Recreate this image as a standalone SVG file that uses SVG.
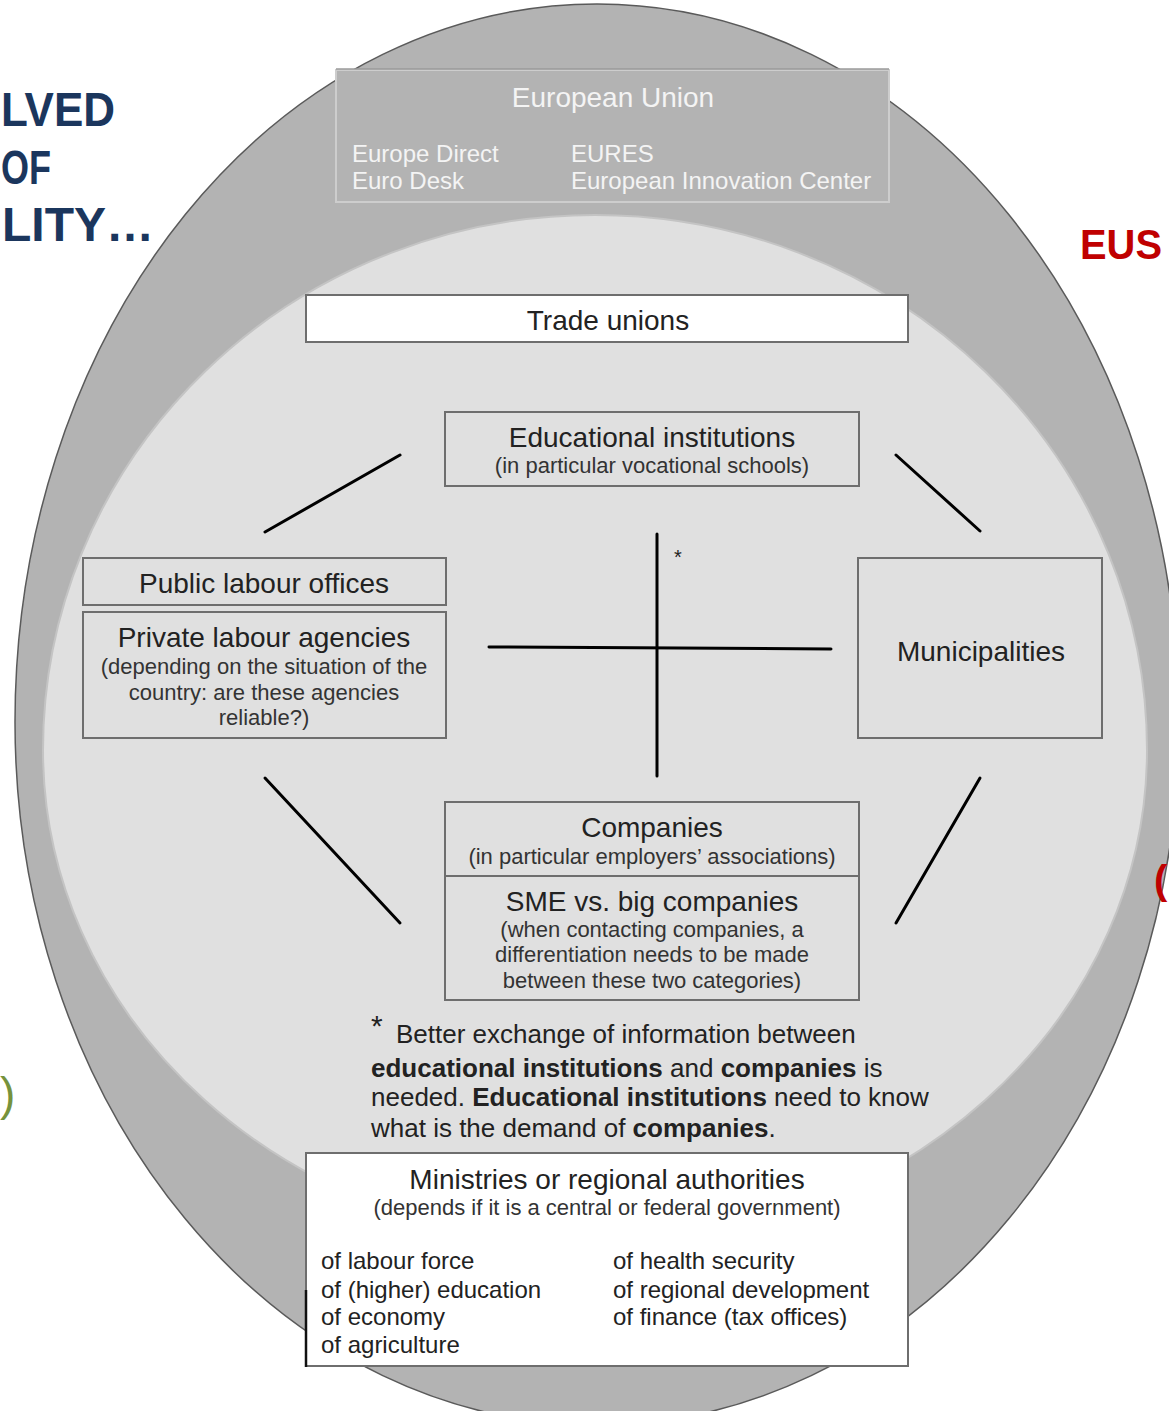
<svg xmlns="http://www.w3.org/2000/svg" width="1169" height="1411" viewBox="0 0 1169 1411">
<style>
  text { font-family: "Liberation Sans", Arial, sans-serif; }
  .box { fill: none; stroke: #6e6e6e; stroke-width: 2; }
  .wbox { fill: #ffffff; stroke: #6e6e6e; stroke-width: 2; }
  .main { font-size: 28px; fill: #222222; text-anchor: middle; }
  .sub { font-size: 22px; fill: #333333; text-anchor: middle; }
  .eu { fill: #f4f4f4; }
  .list { font-size: 24px; fill: #222222; }
  .note { font-size: 26px; fill: #222222; }
  .b { font-weight: bold; }
  .conn { stroke: #000000; stroke-width: 3; stroke-linecap: round; fill: none; }
  .head { font-size: 48px; font-weight: bold; fill: #1b365d; }
</style>
<rect x="0" y="0" width="1169" height="1411" fill="#ffffff"/>

<g id="outer-ring">
  <path d="M 15 722 A 582 718 0 0 1 1179 722 A 582 703 0 0 1 15 722 Z" fill="#b3b3b3" stroke="#5a5a5a" stroke-width="1.5"/>
</g>

<g id="inner-area">
  <path d="M 43 750 A 552 535 0 0 1 1147 750 A 552 495 0 0 1 43 750 Z" fill="#e0e0e0" stroke="#c4c4c4" stroke-width="2"/>
</g>

<g id="side-texts">
  <text class="head" x="1" y="126" textLength="114" lengthAdjust="spacingAndGlyphs">LVED</text>
  <text class="head" x="1" y="184" textLength="50" lengthAdjust="spacingAndGlyphs">OF</text>
  <text class="head" x="2" y="241" textLength="152" lengthAdjust="spacingAndGlyphs">LITY…</text>
  <text x="1080" y="259" font-size="42" font-weight="bold" fill="#c00000" textLength="82" lengthAdjust="spacingAndGlyphs">EUS</text>
  <text x="1154" y="894" font-size="40" font-weight="bold" fill="#c00000">(</text>
  <text x="0" y="1110" font-size="46" fill="#76923c">)</text>
</g>

<g id="european-union">
  <rect x="336" y="70" width="553" height="132" fill="#b3b3b3" stroke="#cdcdcd" stroke-width="2"/>
  <line x1="336" y1="69" x2="889" y2="69" stroke="#9a9a9a" stroke-width="1.5"/>
  <text class="eu" x="613" y="107" font-size="28" text-anchor="middle">European Union</text>
  <text class="eu" x="352" y="162" font-size="24">Europe Direct</text>
  <text class="eu" x="352" y="189" font-size="24">Euro Desk</text>
  <text class="eu" x="571" y="162" font-size="24">EURES</text>
  <text class="eu" x="571" y="189" font-size="24">European Innovation Center</text>
</g>

<g id="trade-unions">
  <rect class="wbox" x="306" y="295" width="602" height="47"/>
  <text class="main" x="608" y="330">Trade unions</text>
</g>

<g id="educational-institutions">
  <rect class="box" x="445" y="412" width="414" height="74"/>
  <text class="main" x="652" y="447">Educational institutions</text>
  <text class="sub" x="652" y="473">(in particular vocational schools)</text>
</g>

<g id="public-labour-offices">
  <rect class="box" x="83" y="558" width="363" height="47"/>
  <text class="main" x="264" y="593">Public labour offices</text>
</g>

<g id="private-labour-agencies">
  <rect class="box" x="83" y="612" width="363" height="126"/>
  <text class="main" x="264" y="647">Private labour agencies</text>
  <text class="sub" x="264" y="674">(depending on the situation of the</text>
  <text class="sub" x="264" y="700">country: are these agencies</text>
  <text class="sub" x="264" y="725">reliable?)</text>
</g>

<g id="municipalities">
  <rect class="box" x="858" y="558" width="244" height="180"/>
  <text class="main" x="981" y="661">Municipalities</text>
</g>

<g id="companies">
  <rect class="box" x="445" y="802" width="414" height="198"/>
  <line x1="445" y1="876" x2="859" y2="876" stroke="#6e6e6e" stroke-width="2"/>
  <text class="main" x="652" y="837">Companies</text>
  <text class="sub" x="652" y="864">(in particular employers’ associations)</text>
  <text class="main" x="652" y="911">SME vs. big companies</text>
  <text class="sub" x="652" y="937">(when contacting companies, a</text>
  <text class="sub" x="652" y="962">differentiation needs to be made</text>
  <text class="sub" x="652" y="988">between these two categories)</text>
</g>

<g id="connectors">
  <line class="conn" x1="265" y1="532" x2="400" y2="455"/>
  <line class="conn" x1="896" y1="455" x2="980" y2="531"/>
  <line class="conn" x1="265" y1="778" x2="400" y2="923"/>
  <line class="conn" x1="980" y1="778" x2="896" y2="923"/>
  <line class="conn" x1="489" y1="647" x2="831" y2="649"/>
  <line class="conn" x1="657" y1="534" x2="657" y2="776"/>
  <text x="678" y="564" font-size="20" fill="#222222" text-anchor="middle">*</text>
</g>

<g id="footnote">
  <text x="371" y="1036" font-size="30" fill="#222222">*</text>
  <text class="note" x="396" y="1043">Better exchange of information between</text>
  <text class="note" x="371" y="1077"><tspan class="b">educational institutions</tspan> and <tspan class="b">companies</tspan> is</text>
  <text class="note" x="371" y="1106">needed. <tspan class="b">Educational institutions</tspan> need to know</text>
  <text class="note" x="371" y="1137">what is the demand of <tspan class="b">companies</tspan>.</text>
</g>

<g id="ministries">
  <rect class="wbox" x="306" y="1153" width="602" height="213"/>
  <line x1="306" y1="1290" x2="306" y2="1367" stroke="#111111" stroke-width="2.5"/>
  <text class="main" x="607" y="1189">Ministries or regional authorities</text>
  <text class="sub" x="607" y="1215">(depends if it is a central or federal government)</text>
  <text class="list" x="321" y="1269">of labour force</text>
  <text class="list" x="321" y="1298">of (higher) education</text>
  <text class="list" x="321" y="1325">of economy</text>
  <text class="list" x="321" y="1353">of agriculture</text>
  <text class="list" x="613" y="1269">of health security</text>
  <text class="list" x="613" y="1298">of regional development</text>
  <text class="list" x="613" y="1325">of finance (tax offices)</text>
</g>
</svg>
